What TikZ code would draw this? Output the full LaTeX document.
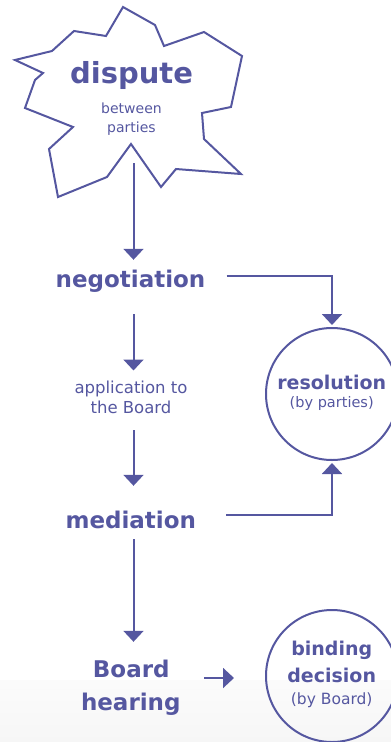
\documentclass[tikz,border=0pt]{standalone}
\usepackage{fontspec}
\setmainfont{DejaVu Sans}
\usetikzlibrary{arrows.meta}
\definecolor{ink}{RGB}{85,87,160}
\tikzset{
  arr/.style={ink, line width=2pt, -{Triangle[width=20pt,length=11pt]}},
  link/.style={ink, line width=2pt},
  big/.style={ink, inner sep=0pt, anchor=base, font=\fontsize{23}{23}\selectfont\bfseries},
  small/.style={ink, inner sep=0pt, anchor=base, font=\fontsize{16.5}{16.5}\selectfont},
  ring/.style={circle, draw=ink, line width=2pt, minimum size=132pt, inner sep=0pt},
  ringhead/.style={ink, inner sep=0pt, anchor=base, font=\fontsize{19}{19}\selectfont\bfseries},
  ringsub/.style={ink, inner sep=0pt, anchor=base, font=\fontsize{14.5}{14.5}\selectfont},
}
\begin{document}
\begin{tikzpicture}[x=1pt,y=-1pt]
\useasboundingbox (0,0) rectangle (391,742);
\shade[top color=gray!3, bottom color=gray!7] (0,680) rectangle (391,742);
% star
\draw[ink, line width=2pt, line join=miter]
  (123,7) -- (155,25) -- (164,46) -- (204,32) -- (242,56) -- (231,107) -- (202,113)
  -- (204,139) -- (241,174) -- (176,169) -- (161,187) -- (131,144) -- (107,177)
  -- (58,197) -- (49,149) -- (73,127) -- (25,108) -- (35,80) -- (43,73) -- (15,60)
  -- (52,51) -- (74,31) -- (106,36) -- cycle;
\node[ink, inner sep=0pt, anchor=base, font=\fontsize{29}{29}\selectfont\bfseries] (disp) at (131.5,83) {dispute};
\node[ink, inner sep=0pt, anchor=base, font=\fontsize{14}{14}\selectfont] (disp2) at (131.5,113) {between};
\node[ink, inner sep=0pt, anchor=base, font=\fontsize{14}{14}\selectfont] (disp3) at (131.5,132) {parties};
\coordinate (spine) at (133.5,0);
\coordinate (starbot) at (133.5,163);
% left column
\node[big, text height=27pt, text depth=27pt, inner xsep=21pt] (neg) at (130.5,287) {negotiation};
\node[small, text height=22.3pt] (app) at (131,393) {application to};
\node[small, text depth=17pt] (app2) at (131,413) {the Board};
\node[big, text height=42pt, text depth=11pt, inner xsep=30pt] (med) at (130.8,528) {mediation};
\node[big, text height=35pt] (board) at (131.3,677) {Board};
\node[big] (hear) at (130.8,710) {hearing};
\coordinate (bh) at (204,678);
% right column
\node[ring] (res) at (332,394) {};
\node[ringhead] (resA) at (331.7,389) {resolution};
\node[ringsub] (resB) at (331.7,407) {(by parties)};
\node[ring] (bind) at (332,676) {};
\node[ringhead] (bindA) at (331.7,655) {binding};
\node[ringhead] (bindB) at (331.7,682) {decision};
\node[ringsub, font=\fontsize{15.5}{15.5}\selectfont] (bindC) at (331.7,704) {(by Board)};
% connectors
\draw[arr] (starbot) -- (neg.north -| spine);
\draw[arr] (neg.south -| spine) -- (app.north -| spine);
\draw[arr] (app2.south -| spine) -- (med.north -| spine);
\draw[arr] (med.south -| spine) -- (board.north -| spine);
\draw[arr, shorten >=2pt] ([yshift=11pt]neg.east) -| (res.north);
\draw[arr, shorten >=2pt] ([yshift=-2.5pt]med.east) -| (res.south);
\draw[arr, shorten >=31pt] (bh) -- (bind.west |- bh);
\end{tikzpicture}
\end{document}
